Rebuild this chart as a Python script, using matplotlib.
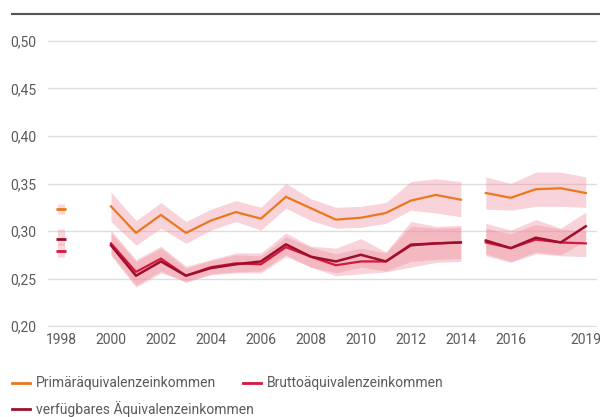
import numpy as np
import matplotlib.pyplot as plt
from matplotlib.lines import Line2D

plt.rcParams['font.family'] = ['Roboto', 'DejaVu Sans']

# --- data ---
years = np.arange(2000, 2020)

primar = [0.326, 0.298, 0.317, 0.298, 0.311, 0.320, 0.313, 0.336, 0.324, 0.312,
          0.314, 0.319, 0.332, 0.338, 0.333, 0.340, 0.335, 0.344, 0.345, 0.340]
primar_lo = [0.310, 0.285, 0.303, 0.287, 0.301, 0.310, 0.301, 0.324, 0.311, 0.303,
             0.304, 0.308, 0.322, 0.319, 0.315, 0.323, 0.322, 0.326, 0.326, 0.325]
primar_hi = [0.341, 0.311, 0.330, 0.310, 0.323, 0.332, 0.325, 0.350, 0.334, 0.325,
             0.326, 0.330, 0.352, 0.355, 0.352, 0.357, 0.350, 0.362, 0.362, 0.357]

brutto = [0.287, 0.257, 0.271, 0.253, 0.262, 0.266, 0.265, 0.283, 0.273, 0.264,
          0.268, 0.268, 0.286, 0.287, 0.288, 0.288, 0.282, 0.291, 0.288, 0.287]
brutto_lo = [0.276, 0.243, 0.258, 0.246, 0.254, 0.256, 0.256, 0.273, 0.262, 0.253,
             0.255, 0.257, 0.262, 0.267, 0.268, 0.274, 0.267, 0.276, 0.274, 0.273]
brutto_hi = [0.298, 0.268, 0.282, 0.261, 0.269, 0.275, 0.274, 0.294, 0.283, 0.276,
             0.282, 0.277, 0.305, 0.303, 0.304, 0.303, 0.297, 0.307, 0.302, 0.300]

verf = [0.285, 0.253, 0.268, 0.253, 0.261, 0.265, 0.268, 0.286, 0.273, 0.268,
        0.275, 0.268, 0.285, 0.287, 0.288, 0.290, 0.282, 0.293, 0.288, 0.305]
verf_lo = [0.274, 0.241, 0.256, 0.247, 0.255, 0.257, 0.258, 0.275, 0.262, 0.256,
           0.262, 0.258, 0.268, 0.270, 0.271, 0.276, 0.268, 0.278, 0.275, 0.290]
verf_hi = [0.301, 0.270, 0.284, 0.263, 0.270, 0.277, 0.277, 0.298, 0.284, 0.282,
           0.292, 0.278, 0.310, 0.305, 0.306, 0.308, 0.301, 0.312, 0.303, 0.320]

# 1998 single values with intervals
y1998 = [0.323, 0.279, 0.292]          # primar, brutto, verf
y1998_lo = [0.318, 0.273, 0.285]
y1998_hi = [0.328, 0.287, 0.302]

xticks = [1998, 2000, 2002, 2004, 2006, 2008, 2010, 2012, 2014, 2016, 2019]
yticks = [0.20, 0.25, 0.30, 0.35, 0.40, 0.45, 0.50]
labels = ['Primäräquivalenzeinkommen', 'Bruttoäquivalenzeinkommen',
          'verfügbares Äquivalenzeinkommen']

c_prim = '#e8791f'
c_brut = '#d4173f'
c_verf = '#9e0f2b'
c_band = '#ef8d9c'

fig = plt.figure(figsize=(6, 4.17), dpi=100)
ax = fig.add_axes([0.08, 0.2158, 0.915, 0.6882])

segments = [years <= 2014, years >= 2015]
series = [(primar, primar_lo, primar_hi, c_prim, 1.6, 4),
          (brutto, brutto_lo, brutto_hi, c_brut, 1.6, 3),
          (verf, verf_lo, verf_hi, c_verf, 1.8, 5)]

for vals, lo, hi, col, lw, z in series:
    vals, lo, hi = np.array(vals), np.array(lo), np.array(hi)
    for m in segments:
        ax.fill_between(years[m], lo[m], hi[m], color=c_band, alpha=0.38,
                        lw=0, zorder=2)
        ax.plot(years[m], vals[m], color=col, lw=lw, zorder=z)

# 1998
cols98 = [c_prim, c_brut, c_verf]
for v, lo, hi, col in zip(y1998, y1998_lo, y1998_hi, cols98):
    ax.vlines(1998, lo, hi, color=c_band, lw=5, alpha=0.35, zorder=2)
    ax.plot([1998], [v], marker='_', ms=7, mew=2, color=col, zorder=5)

ax.set_xlim(1997.48, 2019.45)
ax.set_ylim(0.199, 0.501)
ax.set_xticks(xticks)
ax.set_yticks(yticks)
ax.set_yticklabels([('%.2f' % t).replace('.', ',') for t in yticks])
ax.tick_params(length=0, labelsize=10, labelcolor='#5a5a5a')
ax.tick_params(axis='x', pad=4)
ax.tick_params(axis='y', pad=5)
for lab in ax.get_yticklabels():
    lab.set_horizontalalignment('left')
    lab.set_x(-0.057)
ax.grid(axis='y', color='#dddddd', lw=1)
ax.set_axisbelow(True)
for s in ax.spines.values():
    s.set_visible(False)

# Linie oben
fig.add_artist(Line2D([0.02, 1.0], [0.966, 0.966], color='#555555', lw=1.5))

# Legende
leg_items = [(0.02, 0.082, c_prim, labels[0]),
             (0.405, 0.082, c_brut, labels[1]),
             (0.02, 0.018, c_verf, labels[2])]
for x0, y0, col, txt in leg_items:
    fig.add_artist(Line2D([x0, x0 + 0.03], [y0, y0], color=col, lw=2))
    fig.text(x0 + 0.04, y0, txt, fontsize=10, color='#5a5a5a', va='center')

fig.savefig('out.png', dpi=100)
